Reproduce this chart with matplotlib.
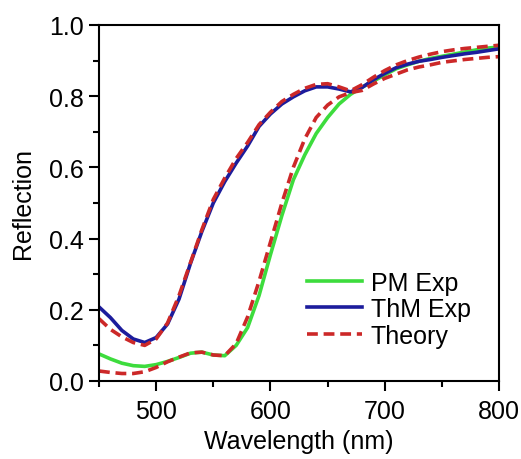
import numpy as np
import matplotlib
matplotlib.use('Agg')
from matplotlib import pyplot as plt
from matplotlib import ticker as mticker

# Wavelength grid (nm)
wavelength = [450, 460, 470, 480, 490, 500, 510, 520, 530, 540, 550, 560,
              570, 580, 590, 600, 610, 620, 630, 640, 650, 660, 670, 680,
              690, 700, 710, 720, 730, 740, 750, 760, 770, 780, 790, 800]

# Measured reflection
pm_exp  = [0.076, 0.062, 0.050, 0.043, 0.041, 0.046, 0.055, 0.066, 0.078, 0.081,
           0.073, 0.071, 0.100, 0.150, 0.240, 0.355, 0.465, 0.565, 0.635, 0.695,
           0.740, 0.778, 0.805, 0.825, 0.842, 0.860, 0.877, 0.888, 0.898, 0.906,
           0.912, 0.918, 0.924, 0.930, 0.935, 0.938]
thm_exp = [0.208, 0.178, 0.142, 0.118, 0.108, 0.122, 0.160, 0.230, 0.330, 0.420,
           0.500, 0.560, 0.612, 0.660, 0.715, 0.750, 0.778, 0.798, 0.815, 0.826,
           0.826, 0.820, 0.812, 0.824, 0.846, 0.864, 0.880, 0.890, 0.898, 0.903,
           0.909, 0.914, 0.919, 0.923, 0.928, 0.933]

# Calculated reflection
pm_theory  = [0.028, 0.024, 0.021, 0.021, 0.026, 0.038, 0.054, 0.067, 0.079, 0.081,
              0.073, 0.071, 0.105, 0.180, 0.280, 0.390, 0.500, 0.600, 0.680, 0.740,
              0.775, 0.798, 0.810, 0.816, 0.834, 0.850, 0.862, 0.874, 0.882, 0.888,
              0.895, 0.899, 0.903, 0.906, 0.909, 0.911]
thm_theory = [0.175, 0.145, 0.124, 0.108, 0.100, 0.118, 0.163, 0.240, 0.332, 0.425,
              0.510, 0.570, 0.625, 0.670, 0.720, 0.755, 0.785, 0.805, 0.822, 0.833,
              0.835, 0.826, 0.815, 0.832, 0.853, 0.872, 0.888, 0.900, 0.910, 0.918,
              0.925, 0.930, 0.934, 0.937, 0.940, 0.943]

xticks = [500, 600, 700, 800]
yticks = [0.0, 0.2, 0.4, 0.6, 0.8, 1.0]

def main():

    plt.rcParams['font.family'] = ['Liberation Sans', 'DejaVu Sans']

    fig = plt.figure(figsize=(5.21, 4.60), dpi=100)
    ax = fig.add_axes([0.190, 0.1696, 0.768, 0.774])

    dash = (0, (3.0, 1.6))
    ax.plot(wavelength, pm_exp, color='#3ddc3d', lw=2.6, label='PM Exp')
    ax.plot(wavelength, thm_exp, color='#1c1c9c', lw=2.6, label='ThM Exp')
    ax.plot(wavelength, thm_theory, color='#cc2828', lw=2.6, ls=dash,
            label='Theory')
    ax.plot(wavelength, pm_theory, color='#cc2828', lw=2.6, ls=dash)

    ax.set_xlim(450, 800)
    ax.set_ylim(0.0, 1.0)
    ax.set_xticks(xticks)
    ax.set_yticks(yticks)
    ax.xaxis.set_minor_locator(mticker.MultipleLocator(50))
    ax.yaxis.set_minor_locator(mticker.MultipleLocator(0.1))
    ax.yaxis.set_major_formatter(mticker.FormatStrFormatter('%.1f'))
    ax.tick_params(which='both', direction='out', width=1.5, labelsize=18,
                   top=False, right=False)
    ax.tick_params(which='major', length=7)
    ax.tick_params(axis='x', which='major', pad=6)
    ax.tick_params(axis='y', which='major', pad=4)
    ax.tick_params(which='minor', length=4)
    for sp in ax.spines.values():
        sp.set_linewidth(1.5)

    ax.set_xlabel('Wavelength (nm)', fontsize=18, labelpad=4)
    ax.set_ylabel('Reflection', fontsize=18, labelpad=10)

    ax.legend(loc='center left', bbox_to_anchor=(0.52, 0.202), frameon=False,
              fontsize=18, handlelength=2.2, handletextpad=0.35,
              labelspacing=0.1, borderpad=0, borderaxespad=0)

    fig.savefig('out.png', dpi=100)
    plt.close()

if __name__ == '__main__': main()
